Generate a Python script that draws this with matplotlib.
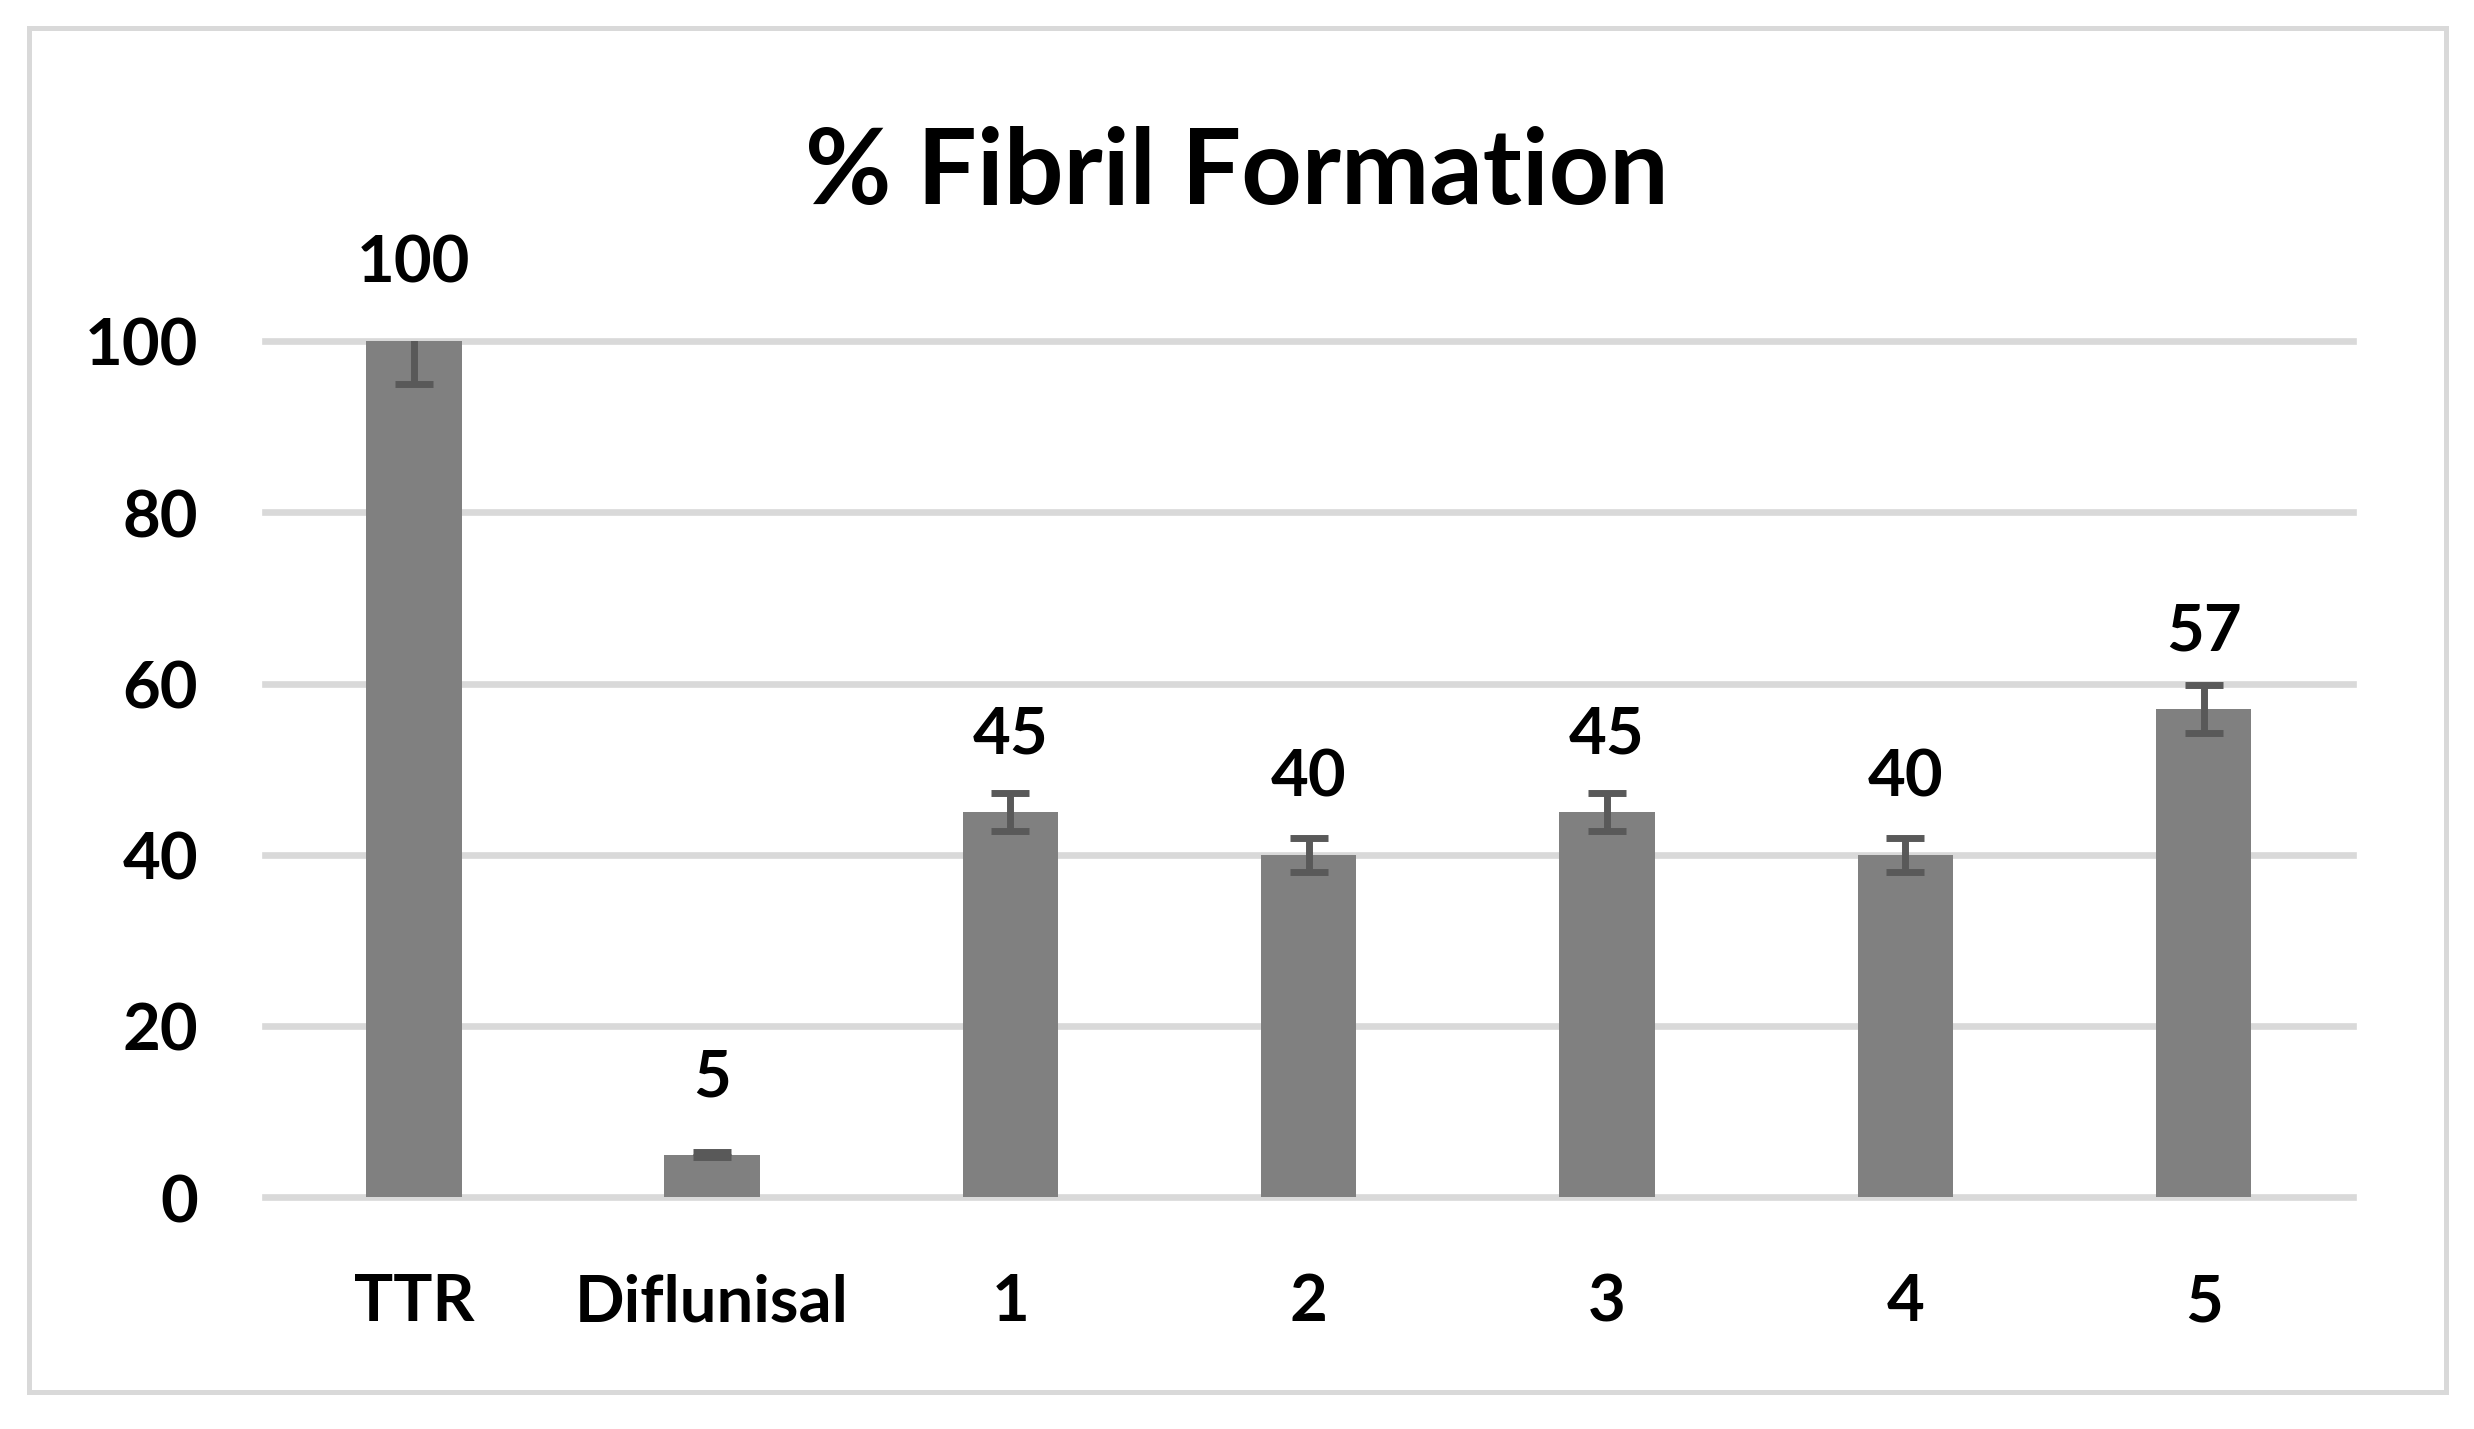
import matplotlib.pyplot as plt
from matplotlib.patches import Rectangle

# data
categories = ['TTR', 'Diflunisal', '1', '2', '3', '4', '5']
fibril_pct = [100, 5, 45, 40, 45, 40, 57]
errors = [5, 0.3, 2.2, 2.0, 2.2, 2.0, 2.8]
y_ticks = [0, 20, 40, 60, 80, 100]

plt.rcParams['font.family'] = ['Lato', 'DejaVu Sans']
plt.rcParams['font.weight'] = 'bold'

fig = plt.figure(figsize=(12.37, 7.149), dpi=200)
ax = fig.add_axes([0.107, 0.162, 0.844, 0.599])

x = list(range(len(categories)))
ax.bar(x, fibril_pct, width=0.32, color='#808080', zorder=2)
ax.errorbar(x, fibril_pct, yerr=errors, fmt='none', ecolor='#595959',
            elinewidth=2.5, capsize=6.9, capthick=2.5, zorder=3)

for xi, v in zip(x, fibril_pct):
    ax.annotate(str(v), (xi, v), xytext=(0, 28), textcoords='offset points',
                ha='center', va='center', fontsize=23.5, fontweight='bold',
                annotation_clip=False)

ax.set_xlim(-0.5, len(categories) - 0.5)
ax.set_ylim(0, 100)
ax.set_yticks(y_ticks)
ax.set_xticks(x)
ax.set_xticklabels(categories)
ax.tick_params(axis='both', length=0, labelsize=23.5)
ax.tick_params(axis='y', pad=24)
ax.tick_params(axis='x', pad=27)
for s in ax.spines.values():
    s.set_visible(False)
ax.grid(axis='y', color='#D9D9D9', linewidth=2.4, zorder=1)
ax.set_axisbelow(True)
for gl in ax.get_ygridlines():
    gl.set_clip_on(False)

fig.text(0.5, 0.878, '% Fibril Formation', ha='center', va='center',
         fontsize=38, fontweight='bold')

# light grey frame round the chart area
fig.patches.append(Rectangle((0.0117, 0.026), 0.977, 0.954, transform=fig.transFigure,
                             fill=False, edgecolor='#D9D9D9', linewidth=1.8))

fig.savefig('out.png', dpi=200)
